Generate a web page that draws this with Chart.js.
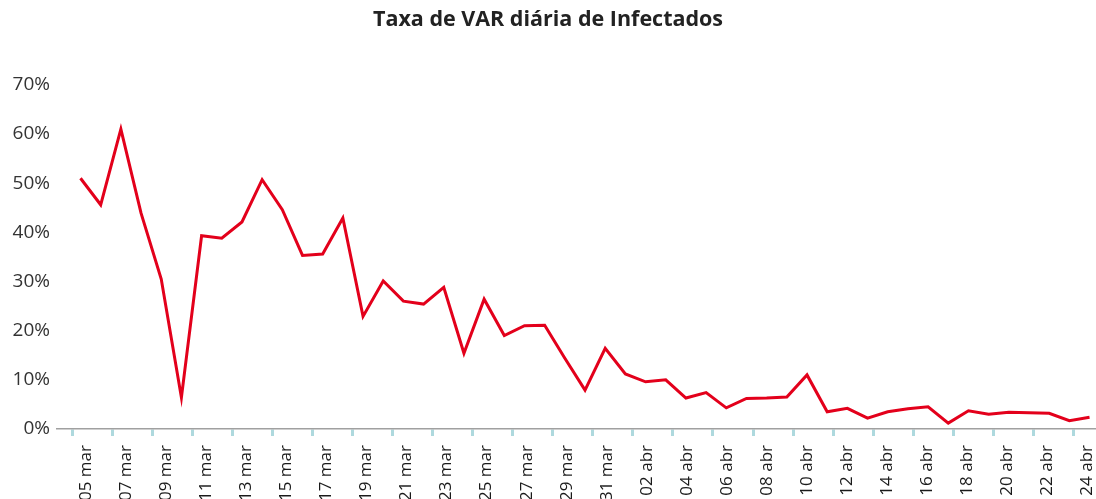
<!DOCTYPE html>
<html>
<head>
<meta charset="utf-8">
<script src="https://cdn.jsdelivr.net/npm/chart.js@4/dist/chart.umd.min.js"></script>
<style>
  html, body { margin: 0; padding: 0; background: #fff; overflow: hidden; }
</style>
</head>
<body>
<canvas id="varChart" width="1096" height="499"></canvas>
<script>
//----dados
const titulo = 'Taxa de VAR diária de Infectados';

const dias = [];
for (let d = 5; d <= 31; d++) {
  dias.push(String(d).padStart(2, '0') + ' mar');
}
for (let d = 1; d <= 24; d++) {
  dias.push(String(d).padStart(2, '0') + ' abr');
}

// taxa diária (%)
const taxas = [
  51.0, 45.6, 61.0, 43.9, 30.5, 6.4, 39.3, 38.8, 42.1, 50.7,
  44.6, 35.3, 35.6, 42.9, 22.9, 30.1, 26.0, 25.4, 28.8, 15.4,
  26.4, 19.0, 21.0, 21.1, 14.4, 7.9, 16.4, 11.2, 9.6, 10.0,
  6.3, 7.4, 4.3, 6.2, 6.3, 6.5, 11.0, 3.5, 4.2, 2.2,
  3.5, 4.1, 4.5, 1.2, 3.7, 3.0, 3.4, 3.3, 3.2, 1.7,
  2.4
];

const yTicks = [0, 10, 20, 30, 40, 50, 60, 70];

// marcas do eixo x: uma a cada 2 dias, um pouco antes do ponto
const passo = 1.985;
const inicio = -0.42;

const ctx = document.getElementById('varChart').getContext('2d');

const varChart = new Chart(ctx, {
  type: 'line',
  data: {
    datasets: [{
      label: 'Taxa de VAR',
      data: taxas.map((v, i) => ({ x: i, y: v })),
      borderColor: '#e3001b',
      borderWidth: 3,
      pointRadius: 0,
      tension: 0
    }]
  },
  options: {
    responsive: false,
    animation: false,
    layout: { padding: 0 },
    plugins: {
      legend: { display: false },
      tooltip: { enabled: false },
      title: {
        display: true,
        text: titulo,
        color: '#222',
        font: { family: 'Open Sans', size: 21.5, weight: 'bold' },
        padding: { top: 7, bottom: 52 }
      }
    },
    scales: {
      x: {
        type: 'linear',
        min: -1.165,
        max: 50.32,
        afterBuildTicks: (scale) => {
          const t = [];
          for (let k = 0; k * 2 < dias.length; k++) t.push({ value: inicio + passo * k });
          scale.ticks = t;
        },
        afterFit: (scale) => {
          scale.height = 70;
          scale.paddingLeft = 0;
          scale.paddingRight = 0;
        },
        border: { display: true, color: '#a0a0a0', width: 1.5 },
        grid: {
          drawOnChartArea: false,
          drawTicks: true,
          tickLength: 7,
          color: '#aed9de',
          lineWidth: 3
        },
        ticks: {
          autoSkip: false,
          minRotation: 90,
          maxRotation: 90,
          padding: 9,
          labelOffset: 14,
          color: '#1a1a1a',
          font: { family: 'Open Sans', size: 17 },
          callback: (v) => dias[Math.round((v - inicio) / passo) * 2]
        }
      },
      y: {
        min: 0,
        max: 70,
        afterBuildTicks: (scale) => {
          scale.ticks = yTicks.map(v => ({ value: v }));
        },
        afterFit: (scale) => { scale.width = 57; },
        border: { display: false },
        grid: { display: false, drawTicks: false },
        ticks: {
          padding: 7,
          color: '#333',
          font: { family: 'Open Sans', size: 19 },
          callback: (v) => v + '%'
        }
      }
    }
  }
});
</script>
</body>
</html>
